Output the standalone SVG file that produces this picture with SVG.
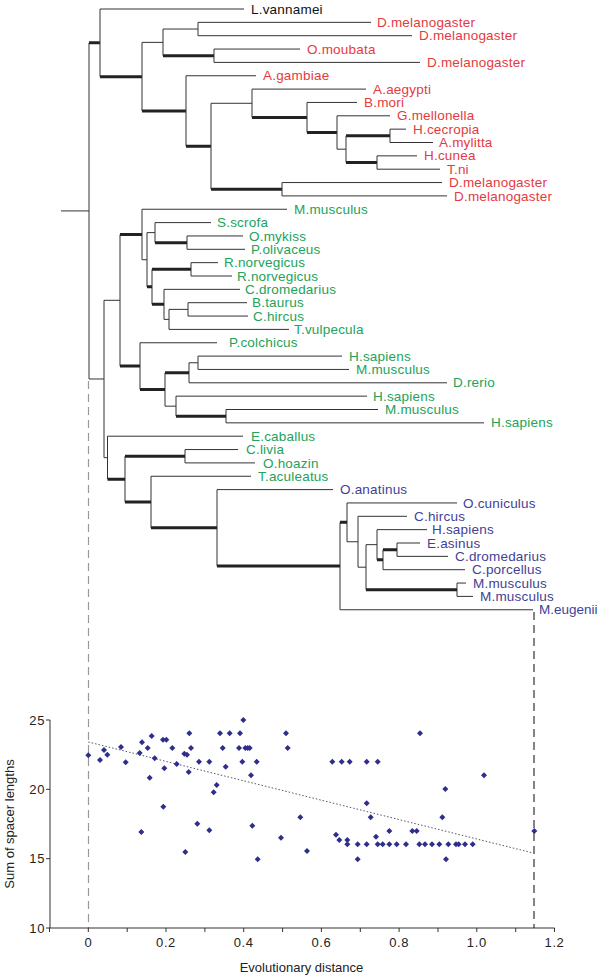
<svg xmlns="http://www.w3.org/2000/svg" xmlns:xlink="http://www.w3.org/1999/xlink" width="600" height="977" viewBox="0 0 600 977">
<style>
.t{fill:none;stroke:#333;stroke-width:1}
.k{fill:none;stroke:#222;stroke-width:3}
.lb{font-family:"Liberation Sans",Arial,sans-serif;font-size:13.5px;letter-spacing:0.2px}
.bk{fill:#111}
.rd{fill:#e53a40}
.gr{fill:#21a35a}
.bl{fill:#3f3f95}
.ax{fill:none;stroke:#333;stroke-width:1}
.tl{font-family:"Liberation Sans",Arial,sans-serif;font-size:13px;fill:#222;letter-spacing:0.6px}
.at{font-family:"Liberation Sans",Arial,sans-serif;font-size:13px;fill:#222}
</style>
<defs>
<path id="d" d="M0,-3 L3,0 L0,3 L-3,0 Z" fill="#2e2e8c"/>
</defs>
<rect width="600" height="977" fill="#fff"/>
<g id="connectors">
<path class="t" d="M61,210.92H89 M89,42.85V378.99 M89,378.99H104"/>
<path class="k" d="M89,42.85H100 M100,76.69H142 M142,111H186 M163,55.73H214 M186,146.26H211 M211,189.23H282 M252,117.47H307 M307,132.49H337 M346,135.83H390 M346,162.53H377"/>
<path class="t" d="M100,9V76.69 M100,9H244 M142,42.38V111 M142,42.38H163 M163,29.03V55.73 M163,29.03H198 M198,22.35V35.7 M198,22.35H371 M198,35.7H412 M214,49.05V62.4 M214,49.05H300 M214,62.4H420 M186,75.75V146.26 M186,75.75H256 M211,103.29V189.23 M211,103.29H252 M282,182.55V195.9 M282,182.55H442 M282,195.9H447 M252,89.1V117.47 M252,89.1H366 M307,102.45V132.49 M307,102.45H357 M337,115.8V149.18 M337,115.8H390 M337,149.18H346 M346,135.83V162.53 M390,129.15V142.5 M390,129.15H406 M390,142.5H433 M377,155.85V169.2 M377,155.85H417 M377,169.2H440"/>
<path class="t" d="M104,300.3V457.67 M104,300.3H120 M104,457.67H107.5 M120,234.49V366.11 M142,209.25V259.73 M142,209.25H287 M142,259.73H147 M147,232.61V286.85 M147,232.61H155 M155,222.6V242.63 M155,222.6H211 M187,235.95V249.3 M187,235.95H243 M187,249.3H245 M152,269.33V304.37 M191,262.65V276 M191,262.65H218 M191,276H232 M164,289.35V319.39 M164,289.35H240 M164,319.39H169 M169,309.38V329.4 M169,309.38H188 M169,329.4H289 M188,302.7V316.05 M188,302.7H247 M188,316.05H248 M140,342.75V389.48 M140,342.75H217 M165,372.79V406.16 M165,406.16H176 M189,362.78V382.8 M189,362.78H198 M189,382.8H447 M198,356.1V369.45 M198,356.1H342 M198,369.45H349 M176,396.15V416.18 M176,396.15H367 M226,409.5V422.85 M226,409.5H378 M226,422.85H484"/>
<path class="k" d="M120,234.49H142 M120,366.11H140 M147,286.85H152 M155,242.63H187 M152,269.33H191 M152,304.37H164 M140,389.48H165 M165,372.79H189 M176,416.18H226"/>
<path class="t" d="M107.5,436.2V479.14 M107.5,436.2H243 M125,456.23V502.04 M185,449.55V462.9 M185,449.55H238 M185,462.9H255 M151,476.25V527.83 M151,476.25H251 M217,489.6V566.05 M217,489.6H333 M340,522.35V609.75 M340,609.75H533 M347,502.95V541.75 M347,502.95H457 M347,541.75H358 M358,516.3V567.2 M358,516.3H407 M358,567.2H366 M366,544.67V589.73 M366,544.67H377 M377,529.65V559.69 M377,529.65H427 M383,549.68V569.7 M383,569.7H465 M397,543V556.35 M397,543H420 M397,556.35H448 M457,583.05V596.4 M457,583.05H466 M457,596.4H473"/>
<path class="k" d="M107.5,479.14H125 M125,456.23H185 M125,502.04H151 M151,527.83H217 M217,566.05H340 M340,522.35H347 M366,589.73H457 M377,559.69H383 M383,549.68H397"/>
<path d="M88.5,381V928" fill="none" stroke="#999" stroke-width="1.2" stroke-dasharray="8 5"/>
<path d="M534,612V928" fill="none" stroke="#333" stroke-width="1.2" stroke-dasharray="8 5"/>
</g>
<g class="lb">
<g id="leaf01"><text class="bk" x="251" y="13.6">L.vannamei</text></g>
<g id="leaf02"><text class="rd" x="377" y="27">D.melanogaster</text></g>
<g id="leaf03"><text class="rd" x="419" y="40.3">D.melanogaster</text></g>
<g id="leaf04"><text class="rd" x="307" y="53.6">O.moubata</text></g>
<g id="leaf05"><text class="rd" x="427" y="67">D.melanogaster</text></g>
<g id="leaf06"><text class="rd" x="263" y="80.3">A.gambiae</text></g>
<g id="leaf07"><text class="rd" x="373" y="93.7">A.aegypti</text></g>
<g id="leaf08"><text class="rd" x="364" y="107">B.mori</text></g>
<g id="leaf09"><text class="rd" x="397" y="120.4">G.mellonella</text></g>
<g id="leaf10"><text class="rd" x="413" y="133.7">H.cecropia</text></g>
<g id="leaf11"><text class="rd" x="439" y="147.1">A.mylitta</text></g>
<g id="leaf12"><text class="rd" x="424" y="160.4">H.cunea</text></g>
<g id="leaf13"><text class="rd" x="447" y="173.8">T.ni</text></g>
<g id="leaf14"><text class="rd" x="449" y="187.1">D.melanogaster</text></g>
<g id="leaf15"><text class="rd" x="454" y="200.5">D.melanogaster</text></g>
<g id="leaf16"><text class="gr" x="294" y="213.8">M.musculus</text></g>
<g id="leaf17"><text class="gr" x="217" y="227.2">S.scrofa</text></g>
<g id="leaf18"><text class="gr" x="249" y="240.5">O.mykiss</text></g>
<g id="leaf19"><text class="gr" x="251" y="253.9">P.olivaceus</text></g>
<g id="leaf20"><text class="gr" x="224" y="267.2">R.norvegicus</text></g>
<g id="leaf21"><text class="gr" x="237" y="280.6">R.norvegicus</text></g>
<g id="leaf22"><text class="gr" x="245" y="293.9">C.dromedarius</text></g>
<g id="leaf23"><text class="gr" x="252" y="307.3">B.taurus</text></g>
<g id="leaf24"><text class="gr" x="253" y="320.6">C.hircus</text></g>
<g id="leaf25"><text class="gr" x="294" y="334">T.vulpecula</text></g>
<g id="leaf26"><text class="gr" x="229" y="347.3">P.colchicus</text></g>
<g id="leaf27"><text class="gr" x="349" y="360.7">H.sapiens</text></g>
<g id="leaf28"><text class="gr" x="356" y="374">M.musculus</text></g>
<g id="leaf29"><text class="gr" x="453" y="387.4">D.rerio</text></g>
<g id="leaf30"><text class="gr" x="373" y="400.7">H.sapiens</text></g>
<g id="leaf31"><text class="gr" x="385" y="414.1">M.musculus</text></g>
<g id="leaf32"><text class="gr" x="491" y="427.4">H.sapiens</text></g>
<g id="leaf33"><text class="gr" x="251" y="440.8">E.caballus</text></g>
<g id="leaf34"><text class="gr" x="246" y="454.1">C.livia</text></g>
<g id="leaf35"><text class="gr" x="263" y="467.5">O.hoazin</text></g>
<g id="leaf36"><text class="gr" x="258" y="480.8">T.aculeatus</text></g>
<g id="leaf37"><text class="bl" x="340" y="494.2">O.anatinus</text></g>
<g id="leaf38"><text class="bl" x="463" y="507.5">O.cuniculus</text></g>
<g id="leaf39"><text class="bl" x="414" y="520.9">C.hircus</text></g>
<g id="leaf40"><text class="bl" x="432" y="534.2">H.sapiens</text></g>
<g id="leaf41"><text class="bl" x="427" y="547.6">E.asinus</text></g>
<g id="leaf42"><text class="bl" x="455" y="560.9">C.dromedarius</text></g>
<g id="leaf43"><text class="bl" x="472" y="574.3">C.porcellus</text></g>
<g id="leaf44"><text class="bl" x="473" y="587.6">M.musculus</text></g>
<g id="leaf45"><text class="bl" x="480" y="601">M.musculus</text></g>
<g id="leaf46"><text class="bl" x="539" y="614.3" style="letter-spacing:0">M.eugenii</text></g>
</g>
<g id="plot">
<path class="ax" d="M50,720V928 M46,720H50 M46,789.3H50 M46,858.7H50 M46,928H50 M49.5,928H554.5"/>
<path class="ax" d="M49.5,928v4 M88.3,928v4 M127.2,928v4 M166,928v4 M204.9,928v4 M243.7,928v4 M282.6,928v4 M321.4,928v4 M360.3,928v4 M399.1,928v4 M438,928v4 M476.8,928v4 M515.7,928v4 M554.5,928v4"/>
<g class="tl" text-anchor="end">
<text x="45" y="724.5">25</text>
<text x="45" y="793.8">20</text>
<text x="45" y="863.2">15</text>
<text x="45" y="932.5">10</text>
</g>
<g class="tl" text-anchor="middle">
<text x="88.3" y="947">0</text>
<text x="166" y="947">0.2</text>
<text x="243.7" y="947">0.4</text>
<text x="321.4" y="947">0.6</text>
<text x="399.1" y="947">0.8</text>
<text x="476.8" y="947">1.0</text>
<text x="554.5" y="947">1.2</text>
</g>
<text class="at" text-anchor="middle" x="301.5" y="972">Evolutionary distance</text>
<text class="at" text-anchor="middle" transform="translate(14,824) rotate(-90)">Sum of spacer lengths</text>
<path d="M88.3,742L533,853" fill="none" stroke="#556" stroke-width="1" stroke-dasharray="1.5 2"/>
<g id="points">
<use xlink:href="#d" x="88.3" y="755.3"/><use xlink:href="#d" x="100" y="760"/><use xlink:href="#d" x="104" y="750"/><use xlink:href="#d" x="107.3" y="754.7"/><use xlink:href="#d" x="121" y="747"/><use xlink:href="#d" x="125.7" y="762.3"/><use xlink:href="#d" x="139.7" y="753"/><use xlink:href="#d" x="142" y="742.3"/><use xlink:href="#d" x="141.3" y="832"/><use xlink:href="#d" x="147.7" y="748"/><use xlink:href="#d" x="149.7" y="777.7"/><use xlink:href="#d" x="151.7" y="736"/><use xlink:href="#d" x="154.7" y="758.3"/><use xlink:href="#d" x="163" y="739.7"/><use xlink:href="#d" x="166.3" y="739.7"/><use xlink:href="#d" x="164.3" y="768.3"/><use xlink:href="#d" x="163.3" y="806.7"/><use xlink:href="#d" x="172.3" y="748"/><use xlink:href="#d" x="176.7" y="764"/><use xlink:href="#d" x="184.3" y="753.7"/><use xlink:href="#d" x="187" y="754.7"/><use xlink:href="#d" x="189.3" y="733.3"/><use xlink:href="#d" x="191" y="748"/><use xlink:href="#d" x="188.7" y="772"/><use xlink:href="#d" x="185.3" y="852"/><use xlink:href="#d" x="197.3" y="823.7"/><use xlink:href="#d" x="199" y="761.7"/><use xlink:href="#d" x="209.3" y="761.7"/><use xlink:href="#d" x="209.3" y="830.3"/><use xlink:href="#d" x="213.7" y="792.3"/><use xlink:href="#d" x="216.7" y="785"/><use xlink:href="#d" x="220" y="733.3"/><use xlink:href="#d" x="222.7" y="748"/><use xlink:href="#d" x="225.7" y="766.7"/><use xlink:href="#d" x="229.7" y="733.3"/><use xlink:href="#d" x="240" y="733.3"/><use xlink:href="#d" x="239" y="748"/><use xlink:href="#d" x="245.3" y="748"/><use xlink:href="#d" x="247.7" y="748"/><use xlink:href="#d" x="249.7" y="748"/><use xlink:href="#d" x="243.3" y="720"/><use xlink:href="#d" x="242.3" y="761.7"/><use xlink:href="#d" x="251" y="775.3"/><use xlink:href="#d" x="256.7" y="761.7"/><use xlink:href="#d" x="252.3" y="825.7"/><use xlink:href="#d" x="257.7" y="859.3"/><use xlink:href="#d" x="286" y="733.3"/><use xlink:href="#d" x="287.7" y="748"/><use xlink:href="#d" x="281" y="837.7"/><use xlink:href="#d" x="300.3" y="817.3"/><use xlink:href="#d" x="307" y="851"/>
<use xlink:href="#d" x="420" y="733.3"/><use xlink:href="#d" x="332.3" y="761.7"/><use xlink:href="#d" x="341.7" y="761.7"/><use xlink:href="#d" x="349.7" y="761.7"/><use xlink:href="#d" x="366.7" y="761.7"/><use xlink:href="#d" x="377.7" y="761.7"/><use xlink:href="#d" x="484" y="775.3"/><use xlink:href="#d" x="445.3" y="789"/><use xlink:href="#d" x="366.7" y="803.3"/><use xlink:href="#d" x="370.7" y="817.3"/><use xlink:href="#d" x="442.3" y="817.3"/><use xlink:href="#d" x="534.3" y="831"/><use xlink:href="#d" x="336" y="834.7"/><use xlink:href="#d" x="339.3" y="840"/><use xlink:href="#d" x="347.3" y="840"/><use xlink:href="#d" x="347.3" y="844.3"/><use xlink:href="#d" x="357.7" y="844.3"/><use xlink:href="#d" x="366.7" y="844.3"/><use xlink:href="#d" x="376" y="836.7"/><use xlink:href="#d" x="377.7" y="844.3"/><use xlink:href="#d" x="382.7" y="844.3"/><use xlink:href="#d" x="389.3" y="831"/><use xlink:href="#d" x="389.3" y="844.3"/><use xlink:href="#d" x="396.7" y="844.3"/><use xlink:href="#d" x="406" y="844.3"/><use xlink:href="#d" x="412.3" y="831"/><use xlink:href="#d" x="416.7" y="831"/><use xlink:href="#d" x="419.3" y="844.3"/><use xlink:href="#d" x="425" y="844.3"/><use xlink:href="#d" x="432" y="844.3"/><use xlink:href="#d" x="439.3" y="844.3"/><use xlink:href="#d" x="448.3" y="844.3"/><use xlink:href="#d" x="456" y="844.3"/><use xlink:href="#d" x="458.7" y="844.3"/><use xlink:href="#d" x="465" y="844.3"/><use xlink:href="#d" x="472.7" y="844.3"/><use xlink:href="#d" x="357.7" y="859.3"/><use xlink:href="#d" x="446" y="859.3"/>
</g>
</g>
</svg>
